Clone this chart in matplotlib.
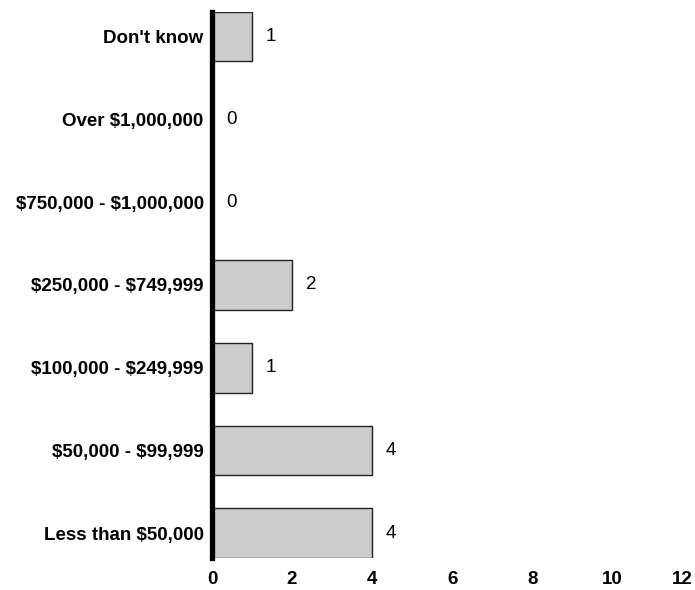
import matplotlib
matplotlib.use("Agg")
import matplotlib.pyplot as plt

categories = ["Less than $50,000", "$50,000 - $99,999", "$100,000 - $249,999",
              "$250,000 - $749,999", "$750,000 - $1,000,000", "Over $1,000,000",
              "Don't know"]
counts = [4, 4, 1, 2, 0, 0, 1]
xticks = [0, 2, 4, 6, 8, 10, 12]

plt.rcParams['font.family'] = ['Liberation Sans', 'DejaVu Sans']
plt.rcParams['text.parse_math'] = False

fig = plt.figure(figsize=(6.95, 5.9), dpi=100)
ax = fig.add_axes([0.305, 0.054, 0.691, 0.926])

ypos = list(range(len(categories)))
bars = ax.barh(ypos, counts, height=0.6, color="#cccccc", edgecolor="#222222",
               linewidth=1.0)

for y, v in zip(ypos, counts):
    ax.annotate(str(v), xy=(v, y), xytext=(10, 0), textcoords="offset points",
                ha="left", va="center", fontsize=13.5)

ax.set_xlim(0, 12)
ax.set_ylim(-0.3, len(categories) - 0.7)
ax.set_yticks(ypos)
ax.set_yticklabels(categories, fontsize=13.5, fontweight="bold")
ax.set_xticks(xticks)
ax.set_xticklabels([str(t) for t in xticks], fontsize=13.5, fontweight="bold")
ax.get_xticklabels()[-1].set_ha("right")
ax.tick_params(axis="both", length=0)
ax.tick_params(axis="y", pad=6)
ax.tick_params(axis="x", pad=9)

for side in ["top", "right", "bottom"]:
    ax.spines[side].set_visible(False)
ax.spines["left"].set_linewidth(3.8)
ax.spines["left"].set_color("black")

fig.savefig("out.png", dpi=100)
